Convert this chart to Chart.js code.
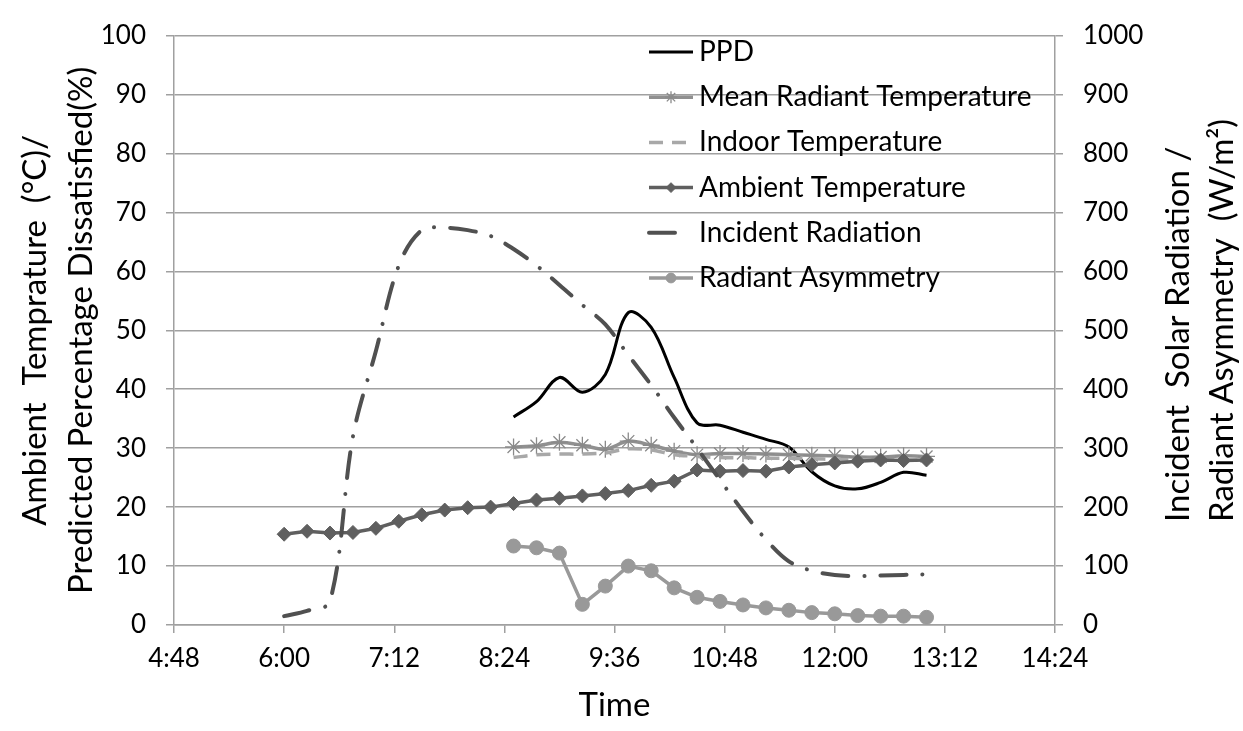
<!DOCTYPE html>
<html>
<head>
<meta charset="utf-8">
<script src="https://cdn.jsdelivr.net/npm/chart.js@4.4.0/dist/chart.umd.min.js"></script>
<style>
  html, body { margin: 0; padding: 0; background: #fff; }
  #wrap { width: 1243px; height: 731px; }
</style>
</head>
<body>
<div id="wrap"><canvas id="chart" width="1243" height="731"></canvas></div>
<script>
// --- Data ---
// sampling times (15 min)
const times = ['6:00','6:15','6:30','6:45','7:00','7:15','7:30','7:45','8:00','8:15',
  '8:30','8:45','9:00','9:15','9:30','9:45','10:00','10:15','10:30','10:45',
  '11:00','11:15','11:30','11:45','12:00','12:15','12:30','12:45','13:00'];
// indoor measurements start at 8:30
const indoorTimes = times.slice(10);

const xTicks = ['4:48','6:00','7:12','8:24','9:36','10:48','12:00','13:12','14:24'];

// left axis series (°C / %)
const ppd = [35.3, 37.9, 42.0, 39.5, 42.5, 53.0, 50.5, 42.0, 34.3, 33.9,
  32.7, 31.5, 30.2, 26.0, 23.6, 23.1, 24.2, 25.9, 25.4];
const meanRadiantTemp = [30.2, 30.4, 31.0, 30.5, 29.8, 31.2, 30.5, 29.5, 28.9, 29.1,
  29.1, 29.0, 28.9, 28.8, 28.7, 28.5, 28.5, 28.7, 28.6];
const indoorTemp = [28.4, 28.9, 29.0, 29.0, 29.2, 29.9, 29.7, 28.9, 28.6, 28.4,
  28.4, 28.3, 28.3, 28.2, 28.1, 28.0, 28.0, 28.0, 27.9];
const ambientTemp = [15.4, 15.9, 15.6, 15.7, 16.4, 17.6, 18.7, 19.5, 19.9, 20.0,
  20.6, 21.2, 21.5, 21.9, 22.3, 22.8, 23.7, 24.4, 26.3, 26.1,
  26.2, 26.1, 26.8, 27.2, 27.5, 27.8, 28.0, 27.9, 28.0];

// right axis series (W/m2)
const incidentRadiation = [15, 24, 40, 320, 465, 610, 670, 674, 670, 660,
  638, 610, 577, 543, 510, 458, 407, 352, 300, 246,
  193, 145, 108, 92, 85, 83, 84, 85, 86];
const radiantAsymmetry = [134, 131, 122, 35, 66, 100, 92, 63, 47, 40,
  34, 29, 25, 21, 19, 16, 15, 15, 13];

// --- helpers ---
const toMin = s => { const [h, m] = s.split(':').map(Number); return h * 60 + m; };
const fmtMin = v => Math.floor(v / 60) + ':' + String(Math.round(v % 60)).padStart(2, '0');
const pts = (tt, vals) => vals.map((v, i) => ({ x: toMin(tt[i]), y: v }));

const tickMins = xTicks.map(toMin);
const FONT = 'Lato';

// Excel-like legend drawn inside the plot area
const legendPlugin = {
  id: 'insideLegend',
  afterDraw(chart) {
    const { ctx, chartArea } = chart;
    const x0 = chartArea.left + 475, x1 = x0 + 44;
    let y = 52;
    chart.data.datasets.forEach(ds => {
      ctx.save();
      ctx.strokeStyle = ds.borderColor;
      ctx.lineWidth = ds.borderWidth;
      ctx.lineCap = ds.borderCapStyle || 'butt';
      ctx.setLineDash(ds.borderDash || []);
      ctx.beginPath();
      ctx.moveTo(x0, y);
      ctx.lineTo(ds.legendLineEnd ? x0 + ds.legendLineEnd : x1, y);
      ctx.stroke();
      ctx.setLineDash([]);
      if (ds.pointRadius > 0 && Chart.helpers && Chart.helpers.drawPoint) {
        ctx.fillStyle = ds.pointBackgroundColor;
        ctx.strokeStyle = ds.pointBorderColor;
        ctx.lineWidth = ds.pointBorderWidth;
        Chart.helpers.drawPoint(ctx, {
          pointStyle: ds.pointStyle, radius: ds.pointRadius * 0.7,
          rotation: 0, borderWidth: ds.pointBorderWidth
        }, (x0 + x1) / 2, y);
      }
      ctx.fillStyle = '#000';
      ctx.font = '28px ' + FONT;
      ctx.textBaseline = 'middle';
      ctx.textAlign = 'left';
      ctx.fillText(ds.label, x1 + 6, y);
      ctx.restore();
      y += 45.2;
    });
  }
};

// right axis title reads bottom-to-top, like the left one
const rightTitle = ['Incident  Solar Radiation /', 'Radiant Asymmetry  (W/m²)'];
const rightTitlePlugin = {
  id: 'rightTitle',
  afterDraw(chart) {
    const { ctx, chartArea } = chart;
    const yb = chartArea.bottom - 103;
    ctx.save();
    ctx.fillStyle = '#000';
    ctx.font = '33px ' + FONT;
    ctx.textAlign = 'left';
    ctx.textBaseline = 'middle';
    rightTitle.forEach((t, i) => {
      ctx.save();
      ctx.translate(1178 + i * 44, yb);
      ctx.rotate(-Math.PI / 2);
      ctx.fillText(t, 0, 0);
      ctx.restore();
    });
    ctx.restore();
  }
};

const gridGrey = '#a0a0a0';

new Chart(document.getElementById('chart'), {
  type: 'line',
  data: {
    datasets: [
      { label: 'PPD', data: pts(indoorTimes, ppd), yAxisID: 'y',
        borderColor: '#000', borderWidth: 3, tension: 0.35, pointRadius: 0, order: 6 },
      { label: 'Mean Radiant Temperature', data: pts(indoorTimes, meanRadiantTemp), yAxisID: 'y',
        borderColor: '#909090', borderWidth: 3.5, tension: 0.3,
        pointStyle: 'star', pointRadius: 8.5, pointBorderColor: '#8a8a8a',
        pointBackgroundColor: '#8a8a8a', pointBorderWidth: 1.3, order: 5 },
      { label: 'Indoor Temperature', data: pts(indoorTimes, indoorTemp), yAxisID: 'y',
        borderColor: '#a8a8a8', borderWidth: 3.5, borderDash: [14, 9], tension: 0.3,
        pointRadius: 0, order: 4 },
      { label: 'Ambient Temperature', data: pts(times, ambientTemp), yAxisID: 'y',
        borderColor: '#5f5f5f', borderWidth: 3.5, tension: 0,
        pointStyle: 'rectRot', pointRadius: 7, pointBorderColor: '#5f5f5f',
        pointBackgroundColor: '#5f5f5f', pointBorderWidth: 1, order: 3 },
      { label: 'Incident Radiation', data: pts(times, incidentRadiation), yAxisID: 'y1',
        borderColor: '#505050', borderWidth: 4, borderDash: [26, 16, 0.1, 16],
        borderCapStyle: 'round', tension: 0.35, pointRadius: 0, order: 2, legendLineEnd: 30 },
      { label: 'Radiant Asymmetry', data: pts(indoorTimes, radiantAsymmetry), yAxisID: 'y1',
        borderColor: '#999999', borderWidth: 3.5, tension: 0,
        pointStyle: 'circle', pointRadius: 7, pointBorderColor: '#999999',
        pointBackgroundColor: '#999999', pointBorderWidth: 1, order: 1 }
    ]
  },
  options: {
    responsive: false,
    animation: false,
    devicePixelRatio: 1,
    events: [],
    layout: { padding: { top: 24, left: 0, right: 0, bottom: 0 } },
    plugins: { legend: { display: false }, tooltip: { enabled: false } },
    scales: {
      x: {
        type: 'linear', min: tickMins[0], max: tickMins[tickMins.length - 1],
        afterFit: s => { s.height = 106; },
        afterBuildTicks: s => { s.ticks = tickMins.map(v => ({ value: v })); },
        ticks: { color: '#000', font: { family: FONT, size: 26 }, padding: 10,
          maxRotation: 0, autoSkip: false, callback: v => fmtMin(v) },
        grid: { drawOnChartArea: false, drawTicks: true, tickLength: 8, color: gridGrey, lineWidth: 1.5 },
        border: { color: gridGrey, width: 1.5 },
        title: { display: true, text: 'Time', color: '#000',
          font: { family: FONT, size: 33, lineHeight: 1.2 }, padding: { top: 0, bottom: 6 } }
      },
      y: {
        position: 'left', min: 0, max: 100,
        afterFit: s => { s.width = 174; },
        ticks: { stepSize: 10, color: '#000', font: { family: FONT, size: 26 }, padding: 20 },
        grid: { color: gridGrey, lineWidth: 1.5, tickLength: 8 },
        border: { color: gridGrey, width: 1.5 },
        title: { display: true, color: '#000',
          text: ['Ambient  Temprature  (°C)/', 'Predicted Percentage Dissatisfied(%)'],
          font: { family: FONT, size: 33, lineHeight: 1.38 }, padding: { top: 13, bottom: 0 } }
      },
      y1: {
        position: 'right', min: 0, max: 1000,
        afterFit: s => { s.width = 188; },
        ticks: { stepSize: 100, color: '#000', font: { family: FONT, size: 26 }, padding: 20,
          callback: v => String(v) },
        grid: { drawOnChartArea: false, color: gridGrey, lineWidth: 1.5, tickLength: 8 },
        border: { color: gridGrey, width: 1.5 }
      }
    }
  },
  plugins: [legendPlugin, rightTitlePlugin]
});
</script>
</body>
</html>
